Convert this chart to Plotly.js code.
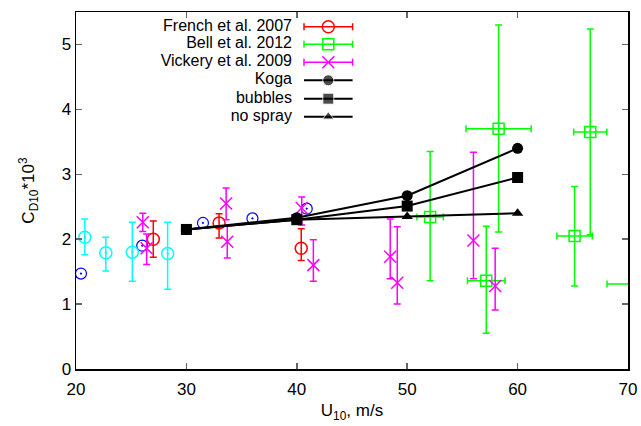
<!DOCTYPE html>
<html>
<head>
<meta charset="utf-8">
<script src="https://cdn.plot.ly/plotly-3.0.1.min.js"></script>
<style>html,body{margin:0;padding:0;background:#fff;}#chart{width:641px;height:426px;}</style>
</head>
<body>
<div id="chart"></div>
<script>
// ---- data ----
const blueX = [20.45, 26.0, 31.5, 35.98, 40.9];
const blueY = [1.47, 1.90, 2.25, 2.32, 2.47];

const cyanX = [20.8, 22.7, 25.1, 28.3];
const cyanY = [2.03, 1.79, 1.80, 1.78];
const cyanErrPlus = [0.28, 0.24, 0.46, 0.48];
const cyanErrMinus = [0.27, 0.28, 0.45, 0.55];

const frenchX = [27.0, 32.96, 40.4];
const frenchY = [2.00, 2.25, 1.86];
const frenchErrPlus = [0.28, 0.14, 0.30];
const frenchErrMinus = [0.28, 0.23, 0.19];

const bellX = [52.08, 57.16, 58.28, 65.16, 66.58, 72.0];
const bellY = [2.34, 1.36, 3.70, 2.05, 3.65, 1.31];
const bellErrYPlus = [1.01, 0.84, 1.60, 0.76, 1.59, 0.8];
const bellErrYMinus = [0.98, 0.81, 1.59, 0.77, 1.58, 0.8];
const bellErrX = [1.2, 1.7, 2.95, 1.6, 1.5, 3.9];

const vickeryX = [26.05, 26.4, 33.6, 33.7, 40.45, 41.5, 48.46, 49.1, 56.0, 57.97];
const vickeryY = [2.26, 1.86, 2.55, 1.96, 2.48, 1.60, 1.73, 1.33, 1.98, 1.28];
const vickeryErrPlus = [0.14, 0.22, 0.24, 0.25, 0.17, 0.39, 0.58, 0.86, 1.36, 0.58];
const vickeryErrMinus = [0.14, 0.25, 0.25, 0.25, 0.26, 0.25, 0.34, 0.33, 0.59, 0.37];

const modelX = [30, 40, 50, 60];
const kogaY = [2.15, 2.33, 2.67, 3.40];
const bubblesY = [2.15, 2.30, 2.51, 2.95];
const noSprayY = [2.15, 2.30, 2.35, 2.40];

const legendLabels = ["French et al. 2007", "Bell et al. 2012", "Vickery et al. 2009", "Koga", "bubbles", "no spray"];
const xTicks = [20, 30, 40, 50, 60, 70];
const yTicks = [0, 1, 2, 3, 4, 5];

// ---- styles ----
const RED = '#ff0000', GREEN = '#00ff00', MAG = '#ff00ff', CYAN = '#00ffff', BLUE = '#0000ff';
const FONT = 'Liberation Sans, Arial, Helvetica, sans-serif';
const EB = {thickness: 1.5, width: 3.5};

const traces = [];
traces.push({x: blueX, y: blueY, type: 'scatter', mode: 'markers', showlegend: false,
  marker: {symbol: 'circle-open-dot', size: 11, color: BLUE, line: {width: 1.2, color: BLUE}}});
traces.push({x: cyanX, y: cyanY, type: 'scatter', mode: 'markers', showlegend: false,
  marker: {symbol: 'circle-open-dot', size: 12, color: CYAN, line: {width: 1.5, color: CYAN}},
  error_y: Object.assign({type: 'data', symmetric: false, array: cyanErrPlus, arrayminus: cyanErrMinus, color: CYAN}, EB)});
traces.push({x: frenchX, y: frenchY, type: 'scatter', mode: 'markers', name: legendLabels[0], showlegend: false,
  marker: {symbol: 'circle-open', size: 12, color: RED, line: {width: 1.5, color: RED}},
  error_y: Object.assign({type: 'data', symmetric: false, array: frenchErrPlus, arrayminus: frenchErrMinus, color: RED}, EB)});
traces.push({x: bellX, y: bellY, type: 'scatter', mode: 'markers', name: legendLabels[1], showlegend: false,
  marker: {symbol: 'square-open', size: 11, color: GREEN, line: {width: 1.5, color: GREEN}},
  error_y: Object.assign({type: 'data', symmetric: false, array: bellErrYPlus, arrayminus: bellErrYMinus, color: GREEN}, EB),
  error_x: Object.assign({type: 'data', array: bellErrX, color: GREEN}, EB)});
traces.push({x: vickeryX, y: vickeryY, type: 'scatter', mode: 'markers', name: legendLabels[2], showlegend: false,
  marker: {symbol: 'x-thin-open', size: 12, color: MAG, line: {width: 1.5, color: MAG}},
  error_y: Object.assign({type: 'data', symmetric: false, array: vickeryErrPlus, arrayminus: vickeryErrMinus, color: MAG}, EB)});
const modelSeries = [[kogaY, 'circle'], [bubblesY, 'square'], [noSprayY, 'triangle-up']];
modelSeries.forEach(function (s, i) {
  traces.push({x: modelX, y: s[0], type: 'scatter', mode: 'lines+markers', name: legendLabels[3 + i], showlegend: false,
    line: {color: '#000', width: 2}, marker: {symbol: s[1], size: s[1] === 'triangle-up' ? 10 : 11, color: '#000'}});
});

// ---- custom gnuplot-style key (text left, sample right) on a hidden overlay axis in pixel units ----
const keyRows = [26.7, 44.3, 62.3, 80.3, 98.7, 116.7];
const keyCx = 328.3, keyHalf = 24.3, keyTextRight = 292;
const keyStyles = [
  {sym: 'circle-open', c: RED, eb: true, size: 12},
  {sym: 'square-open', c: GREEN, eb: true, size: 11},
  {sym: 'x-thin-open', c: MAG, eb: true, size: 12},
  {sym: 'circle', c: '#000', eb: false, size: 11},
  {sym: 'square', c: '#000', eb: false, size: 11},
  {sym: 'triangle-up', c: '#000', eb: false, size: 10}
];
keyStyles.forEach(function (k, i) {
  if (k.eb) {
    traces.push({x: [keyCx], y: [keyRows[i]], xaxis: 'x2', yaxis: 'y2', type: 'scatter', mode: 'markers', showlegend: false,
      marker: {symbol: k.sym, size: k.size, color: k.c, line: {width: 1.5, color: k.c}},
      error_x: {type: 'constant', value: keyHalf, color: k.c, thickness: 1.5, width: 3.5}});
  } else {
    traces.push({x: [keyCx - keyHalf, keyCx, keyCx + keyHalf], y: [keyRows[i], keyRows[i], keyRows[i]], xaxis: 'x2', yaxis: 'y2',
      type: 'scatter', mode: 'lines+markers', showlegend: false,
      line: {color: '#000', width: 2}, marker: {symbol: k.sym, size: [0, k.size, 0], color: '#000'}});
  }
});
traces.push({x: keyRows.map(function () { return keyTextRight; }), y: keyRows, xaxis: 'x2', yaxis: 'y2',
  type: 'scatter', mode: 'text', text: legendLabels, textposition: 'middle left', showlegend: false,
  cliponaxis: false, textfont: {family: FONT, size: 16, color: '#000'}});

const layout = {
  width: 641, height: 426,
  margin: {l: 76, r: 13, t: 12, b: 57},
  paper_bgcolor: '#fff', plot_bgcolor: '#fff',
  showlegend: false,
  font: {family: FONT, size: 17, color: '#000'},
  xaxis: {range: [20, 70], tickvals: xTicks, ticktext: xTicks.map(String), ticks: 'inside', ticklen: 6, tickcolor: '#666', tickwidth: 1.5,
    ticklabelstandoff: 4,
    showline: true, linecolor: '#000', linewidth: 1.5, mirror: 'ticks', showgrid: false, zeroline: false,
    title: {text: 'U<sub>10</sub>, m/s', font: {family: FONT, size: 17}, standoff: 6}},
  yaxis: {range: [0, 5.5], tickvals: yTicks, ticktext: yTicks.map(String), ticks: 'inside', ticklen: 6, tickcolor: '#666', tickwidth: 1.5,
    showline: true, linecolor: '#000', linewidth: 1.5, mirror: 'ticks', showgrid: false, zeroline: false,
    title: {text: 'C<sub>D10</sub>*10<sup>3</sup>', font: {family: FONT, size: 17}, standoff: 22}},
  xaxis2: {overlaying: 'x', anchor: 'y2', range: [76, 628], visible: false, fixedrange: true},
  yaxis2: {overlaying: 'y', anchor: 'x2', range: [369, 12], visible: false, fixedrange: true}
};

Plotly.newPlot('chart', traces, layout, {displayModeBar: false, staticPlot: true});
</script>
</body>
</html>
